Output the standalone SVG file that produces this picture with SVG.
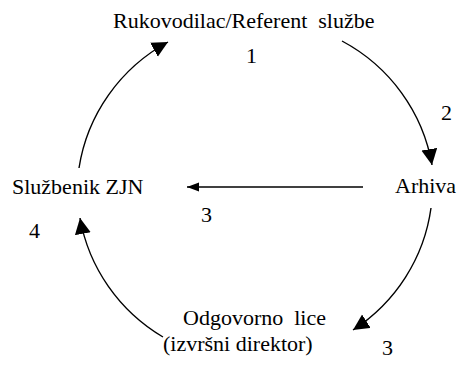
<svg xmlns="http://www.w3.org/2000/svg" width="460" height="373" viewBox="0 0 460 373">
<defs>
<marker id="big" markerUnits="userSpaceOnUse" markerWidth="18" markerHeight="18" refX="16" refY="8" orient="auto"><path d="M0,0 L16,8 L0,16 z" fill="#000"/></marker>
<marker id="small" markerUnits="userSpaceOnUse" markerWidth="14" markerHeight="10" refX="12" refY="4.5" orient="auto"><path d="M0,0 L12,4.5 L0,9 z" fill="#000"/></marker>
</defs>
<rect width="460" height="373" fill="#fff"/>
<text x="113" y="28" id="n1" font-family="Liberation Serif" style="font-family:'Liberation Serif',serif" font-size="22" xml:space="preserve">Rukovodilac/Referent  službe</text>
<text x="395" y="193" id="n2" font-family="Liberation Serif" style="font-family:'Liberation Serif',serif" font-size="22">Arhiva</text>
<text x="12" y="194" id="n3" font-family="Liberation Serif" style="font-family:'Liberation Serif',serif" font-size="22">Službenik ZJN</text>
<text x="183" y="325" id="n4" font-family="Liberation Serif" style="font-family:'Liberation Serif',serif" font-size="22" xml:space="preserve">Odgovorno  lice</text>
<text x="163" y="351" id="n4b" font-family="Liberation Serif" style="font-family:'Liberation Serif',serif" font-size="22">(izvršni direktor)</text>
<text x="246" y="63" font-family="Liberation Serif" style="font-family:'Liberation Serif',serif" font-size="22">1</text>
<text x="441" y="120" font-family="Liberation Serif" style="font-family:'Liberation Serif',serif" font-size="22">2</text>
<text x="201" y="222" font-family="Liberation Serif" style="font-family:'Liberation Serif',serif" font-size="22">3</text>
<text x="29" y="238" font-family="Liberation Serif" style="font-family:'Liberation Serif',serif" font-size="22">4</text>
<text x="382" y="355" font-family="Liberation Serif" style="font-family:'Liberation Serif',serif" font-size="22">3</text>
<g id="connectors" fill="none" stroke="#000" stroke-width="1.4">
<path d="M79,168 A177,174 0 0 1 168,42" marker-end="url(#big)"/>
<path d="M342,41 A177,174 0 0 1 432,165" marker-end="url(#big)"/>
<path d="M431,208 A177,174 0 0 1 353,330" marker-end="url(#big)"/>
<path d="M163,337 A177,174 0 0 1 80,218" marker-end="url(#big)"/>
<path d="M363,187 L187,187" marker-end="url(#small)"/>
</g>
</svg>
